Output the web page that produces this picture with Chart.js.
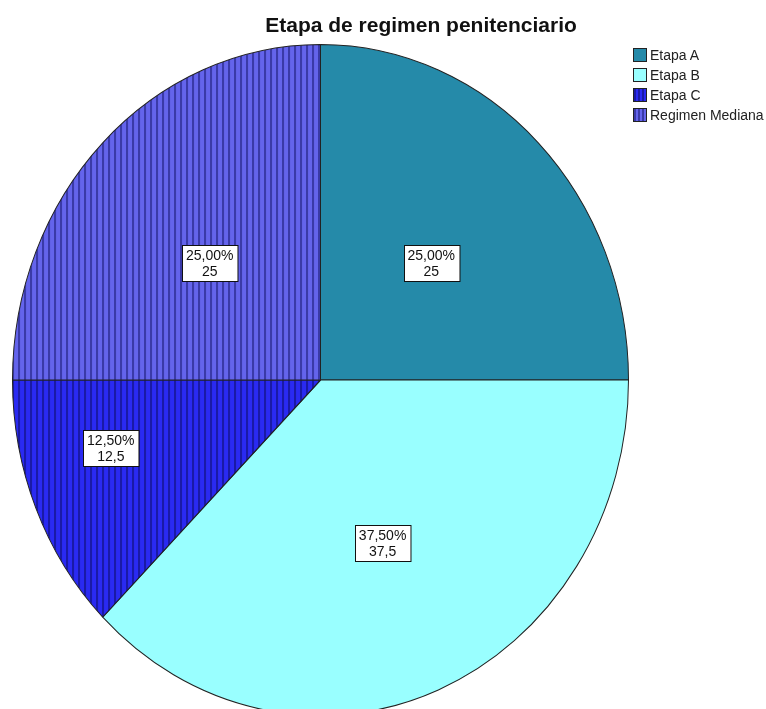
<!DOCTYPE html>
<html>
<head>
<meta charset="utf-8">
<script src="https://cdn.jsdelivr.net/npm/chart.js@4/dist/chart.umd.min.js"></script>
<style>
    html, body { margin: 0; padding: 0; background: #fff; }
    #wrap { position: relative; width: 766px; height: 709px; overflow: hidden; font-family: 'Liberation Sans', Arial, sans-serif; }
    #chart { position: absolute; left: 0; top: 0; }
    #title { position: absolute; left: 0; width: 842px; top: 13px; text-align: center; font-weight: bold; font-size: 21px; color: #111; }
    #legend { position: absolute; left: 633px; top: 45px; font-size: 14px; color: #222; }
    .item { display: flex; align-items: center; height: 20px; }
    .sw { width: 14px; height: 14px; border: 1px solid #222; box-sizing: border-box; margin-right: 3px; }
</style>
</head>
<body>
<div id="wrap">
    <canvas id="chart" width="766" height="709"></canvas>
    <div id="title">Etapa de regimen penitenciario</div>
    <div id="legend"></div>
</div>
<script>
// data
const categories = ['Etapa A', 'Etapa B', 'Etapa C', 'Regimen Mediana'];
const values = [25, 37.5, 12.5, 25];

// look
const baseColors = ['#258aa9', '#99ffff', '#2a2af2', '#6464ec'];
const stripeColors = [null, null, '#1a1aa6', '#3a3aa8'];
const labelRadius = [0.5, 0.527, 0.71, 0.5];
const labelShift = [1, 0, 6, -1];   // degrees
const yStretch = 336 / 308.5;       // the original pie is a bit taller than wide

function stripes(base, dark) {
    const c = document.createElement('canvas');
    c.width = 6; c.height = 6;
    const g = c.getContext('2d');
    g.fillStyle = base;
    g.fillRect(0, 0, 6, 6);
    g.fillStyle = dark;
    g.fillRect(0, 0, 2, 6);
    return g.createPattern(c, 'repeat');
}

function fmt(v, dec) {
    return v.toFixed(dec).replace('.', ',');
}

const fills = baseColors.map((c, i) => stripeColors[i] ? stripes(c, stripeColors[i]) : c);

// legend
const legend = document.getElementById('legend');
categories.forEach((name, i) => {
    const bg = stripeColors[i]
        ? `repeating-linear-gradient(90deg, ${stripeColors[i]} 0 2px, ${baseColors[i]} 2px 4px)`
        : baseColors[i];
    legend.innerHTML += `<div class="item"><div class="sw" style="background:${bg}"></div>${name}</div>`;
});

const stretchPlugin = {
    id: 'stretch',
    beforeDatasetsDraw(chart) {
        const arc = chart.getDatasetMeta(0).data[0];
        const ctx = chart.ctx;
        ctx.save();
        ctx.translate(arc.x, arc.y);
        ctx.scale(1, yStretch);
        ctx.translate(-arc.x, -arc.y);
    },
    afterDatasetsDraw(chart) {
        chart.ctx.restore();
    }
};

const labelPlugin = {
    id: 'boxLabels',
    afterDraw(chart) {
        const ctx = chart.ctx;
        const total = values.reduce((s, v) => s + v, 0);
        ctx.save();
        ctx.font = '14px "Liberation Sans", Arial, sans-serif';
        ctx.textAlign = 'center';
        ctx.textBaseline = 'middle';
        chart.getDatasetMeta(0).data.forEach((arc, i) => {
            const mid = (arc.startAngle + arc.endAngle) / 2 + labelShift[i] * Math.PI / 180;
            const r = arc.outerRadius * labelRadius[i];
            const x = arc.x + Math.cos(mid) * r;
            const y = arc.y + Math.sin(mid) * r * yStretch;
            const l1 = fmt(values[i] / total * 100, 2) + '%';
            const l2 = Number.isInteger(values[i]) ? String(values[i]) : fmt(values[i], 1);
            const w = Math.max(ctx.measureText(l1).width, ctx.measureText(l2).width) + 8;
            const h = 36;
            const bx = Math.round(x - w / 2) + 0.5, by = Math.round(y - h / 2) + 0.5;
            ctx.fillStyle = '#fff';
            ctx.fillRect(bx, by, w, h);
            ctx.strokeStyle = '#111';
            ctx.lineWidth = 1;
            ctx.strokeRect(bx, by, w, h);
            ctx.fillStyle = '#111';
            ctx.fillText(l1, x, y - 7);
            ctx.fillText(l2, x, y + 9);
        });
        ctx.restore();
    }
};

new Chart(document.getElementById('chart'), {
    type: 'pie',
    data: {
        labels: categories,
        datasets: [{
            data: values,
            backgroundColor: fills,
            borderColor: '#222',
            borderWidth: 1,
            clip: false
        }]
    },
    options: {
        responsive: false,
        animation: false,
        layout: { padding: { left: 12, top: 71.5, right: 137, bottom: 20.5 } },
        plugins: {
            legend: { display: false },
            title: { display: false },
            tooltip: { enabled: false }
        }
    },
    plugins: [stretchPlugin, labelPlugin]
});
</script>
</body>
</html>
